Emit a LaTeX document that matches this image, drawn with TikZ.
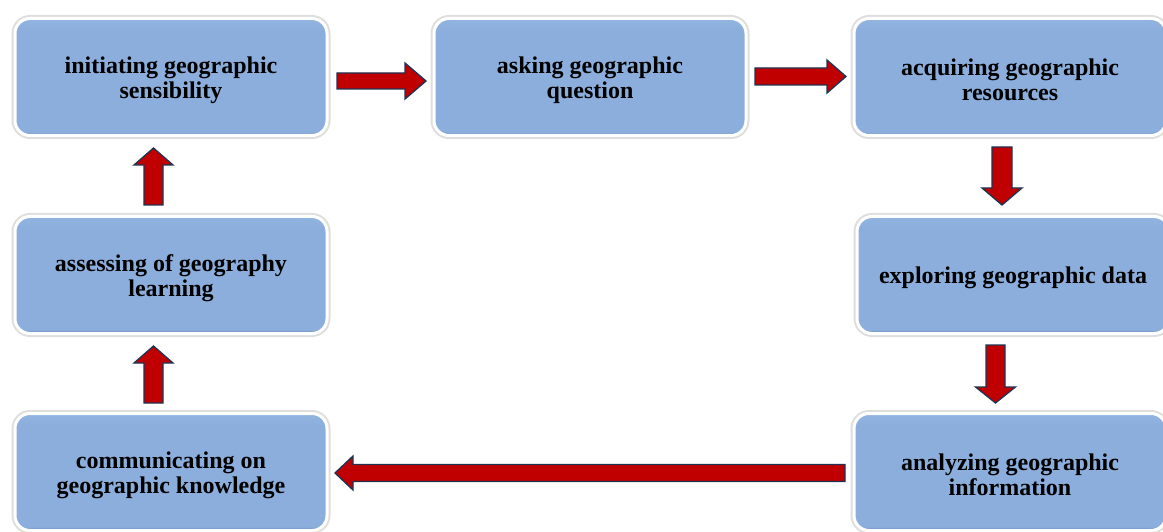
\documentclass[tikz,border=0pt]{standalone}
\usepackage{fontspec}
\setmainfont{Liberation Serif}
\usetikzlibrary{calc,shadows}
\definecolor{boxblue}{RGB}{139,174,220}
\definecolor{boxdark}{RGB}{98,132,186}
\definecolor{boxtop}{RGB}{145,180,225}
\definecolor{arrred}{RGB}{192,0,0}
\definecolor{arredge}{RGB}{31,52,84}
\pgfdeclareverticalshading{boxshade}{100bp}{color(0bp)=(boxdark); color(25bp)=(boxdark); color(26.6bp)=(boxblue); color(70bp)=(boxblue); color(75bp)=(boxtop); color(100bp)=(boxtop)}
\newcommand{\tstrut}{\rule{0pt}{23pt}}
\tikzset{
  stepbox/.style={rounded corners=15pt, minimum width=312pt, minimum height=117pt,
    outer sep=0pt, shading=boxshade, draw=white, line width=3pt,
    preaction={draw=black!13, line width=7pt},
    align=center, text=black, font=\bfseries\fontsize{24}{25}\selectfont},
  redarrow/.style={fill=arrred, draw=arredge, line width=1.3pt, line join=miter}
}
% horizontal block arrow: start, tip, shaft half, head half, head length (signed)
\newcommand{\hblockarrow}[5]{%
  \draw[redarrow] let \p1=#1, \p2=#2 in
    (\x1,{\y1+#3}) -- ({\x2-(#5)},{\y1+#3}) -- ({\x2-(#5)},{\y1+#4}) -- (\x2,\y1)
    -- ({\x2-(#5)},{\y1-#4}) -- ({\x2-(#5)},{\y1-#3}) -- (\x1,{\y1-#3}) -- cycle;}
% vertical block arrow: start, tip, shaft half, head half, head length (signed, canvas up positive)
\newcommand{\vblockarrow}[5]{%
  \draw[redarrow] let \p1=#1, \p2=#2 in
    ({\x1+#3},\y1) -- ({\x1+#3},{\y2-(#5)}) -- ({\x1+#4},{\y2-(#5)}) -- (\x1,\y2)
    -- ({\x1-#4},{\y2-(#5)}) -- ({\x1-#3},{\y2-(#5)}) -- ({\x1-#3},\y1) -- cycle;}
\begin{document}
\begin{tikzpicture}[x=1pt,y=-1pt]
\useasboundingbox (0,0) rectangle (1163,532);
\clip (0,0) rectangle (1163,532);
\node[stepbox] (b1) at (171,77) {\tstrut initiating geographic\\sensibility};
\node[stepbox] (b2) at (590,77) {\tstrut asking geographic\\question};
\node[stepbox] (b3) at (1010,77) {\tstrut acquiring geographic\\resources};
\node[stepbox] (b4) at (1013,275) {\tstrut exploring geographic data};
\node[stepbox] (b5) at (1010,472) {\tstrut analyzing geographic\\information};
\node[stepbox] (b6) at (171,472) {\tstrut communicating on\\geographic knowledge};
\node[stepbox] (b7) at (171,275) {\tstrut assessing of geography\\learning};
% connector end points
\coordinate (a1s) at ($(b1.east)+(10,4)$);
\coordinate (a1e) at ($(b2.west)+(-8,4)$);
\coordinate (a2s) at ($(b2.east)+(9,-0.5)$);
\coordinate (a2e) at ($(b3.west)+(-8,-0.5)$);
\coordinate (d1s) at ($(b3.south)+(-8,11.5)$);
\coordinate (d1e) at ($(b4.north)+(-11,-11.5)$);
\coordinate (d2s) at ($(b4.south)+(-17.5,11.5)$);
\coordinate (d2e) at ($(b5.north)+(-14.5,-10.5)$);
\coordinate (ls) at ($(b5.west)+(-9,1)$);
\coordinate (le) at ($(b6.east)+(8,1)$);
\coordinate (u1s) at ($(b7.north)+(-17.5,-11.5)$);
\coordinate (u1e) at ($(b1.south)+(-17.5,12.5)$);
\coordinate (u2s) at ($(b6.north)+(-17.5,-10.5)$);
\coordinate (u2e) at ($(b7.south)+(-17.5,12.5)$);
% block arrows
\hblockarrow{(a1s)}{(a1e)}{8pt}{18pt}{21pt}
\hblockarrow{(a2s)}{(a2e)}{8.5pt}{16.5pt}{19pt}
\hblockarrow{(ls)}{(le)}{8.5pt}{17pt}{-18pt}
\vblockarrow{(d1s)}{(d1e)}{10pt}{20pt}{-17pt}
\vblockarrow{(d2s)}{(d2e)}{9.5pt}{20pt}{-16pt}
\vblockarrow{(u1s)}{(u1e)}{9.5pt}{19.5pt}{17pt}
\vblockarrow{(u2s)}{(u2e)}{9.5pt}{19.5pt}{17pt}
\end{tikzpicture}
\end{document}
